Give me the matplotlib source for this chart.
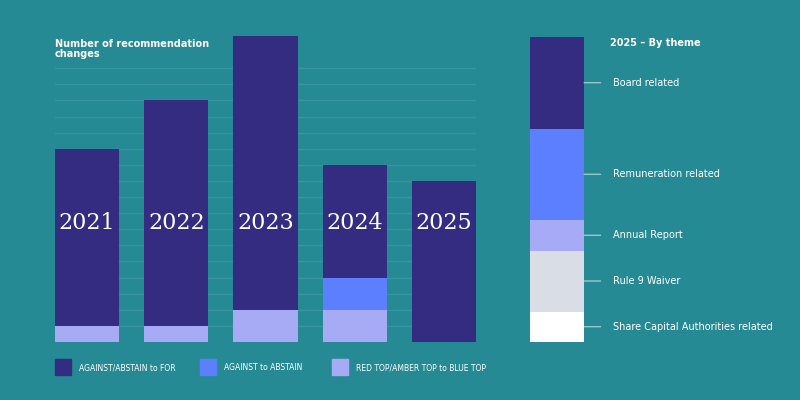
import matplotlib.pyplot as plt
from matplotlib.patches import Rectangle
import numpy as np

years = ['2021', '2022', '2023', '2024', '2025']
for_vals = [11, 14, 17, 7, 10]
abstain_vals = [0, 0, 0, 2, 0]
top_vals = [1, 1, 2, 2, 0]

themes = ['Share Capital Authorities related', 'Rule 9 Waiver', 'Annual Report',
          'Remuneration related', 'Board related']
theme_vals = [1, 2, 1, 3, 3]
theme_colors = ['#ffffff', '#d8dde6', '#a7aaf5', '#5b7fff', '#332c80']

bg = '#268a94'
dark = '#332c80'
blue = '#5b7fff'
light = '#a7aaf5'

fig = plt.figure(figsize=(8, 4), dpi=100, facecolor=bg)

# left chart
ax = fig.add_axes([55/800, 58/400, 421/800, 306/400])
ax.set_facecolor(bg)
x = np.arange(len(years))
for g in range(1, 18):
    ax.axhline(g, color='#3794a0', lw=1, zorder=0)
ax.bar(x, top_vals, width=0.72, color=light, zorder=2)
ax.bar(x, abstain_vals, width=0.72, bottom=top_vals, color=blue, zorder=2)
bot = np.array(top_vals) + np.array(abstain_vals)
ax.bar(x, for_vals, width=0.72, bottom=bot, color=dark, zorder=2)
for i, y in enumerate(years):
    ax.text(i, 7.4, y, ha='center', va='center', color='white',
            fontsize=16, family='DejaVu Serif', zorder=3)
ax.set_xlim(-0.36, 4.36)
ax.set_ylim(0, 19)
ax.axis('off')

fig.text(55/800, 1 - 49/400, 'Number of recommendation\nchanges', color='white',
         fontsize=7, fontweight='semibold', va='center', ha='left', linespacing=1.0)

# legend
leg = [('AGAINST/ABSTAIN to FOR', dark, 55), ('AGAINST to ABSTAIN', blue, 200),
       ('RED TOP/AMBER TOP to BLUE TOP', light, 332)]
for lab, c, px in leg:
    fig.patches.append(Rectangle((px/800, 1 - 375/400), 16/800, 16/400,
                                 transform=fig.transFigure, color=c))
    fig.text((px + 24)/800, 1 - 368/400, lab, color='white', fontsize=5.5, va='center')

# right chart
ax2 = fig.add_axes([530/800, 58/400, 54/800, 305/400])
ax2.set_facecolor(bg)
b = 0
for name, v, c in zip(themes, theme_vals, theme_colors):
    ax2.bar(0, v, width=1, bottom=b, color=c)
    mid = b + v / 2
    ax2.annotate(name, xy=(0.5, mid), xytext=(1.04, mid), textcoords='data',
                 color='white', fontsize=7, va='center', annotation_clip=False,
                 arrowprops=dict(arrowstyle='-', color='#bcd6da', lw=0.8,
                                 shrinkA=7, shrinkB=0))
    b += v
ax2.set_xlim(-0.5, 0.5)
ax2.set_ylim(0, 10)
ax2.axis('off')

fig.text(610/800, 1 - 43/400, '2025 – By theme', color='white', fontsize=7,
         fontweight='semibold', va='center')

fig.savefig('out.png', facecolor=bg)
